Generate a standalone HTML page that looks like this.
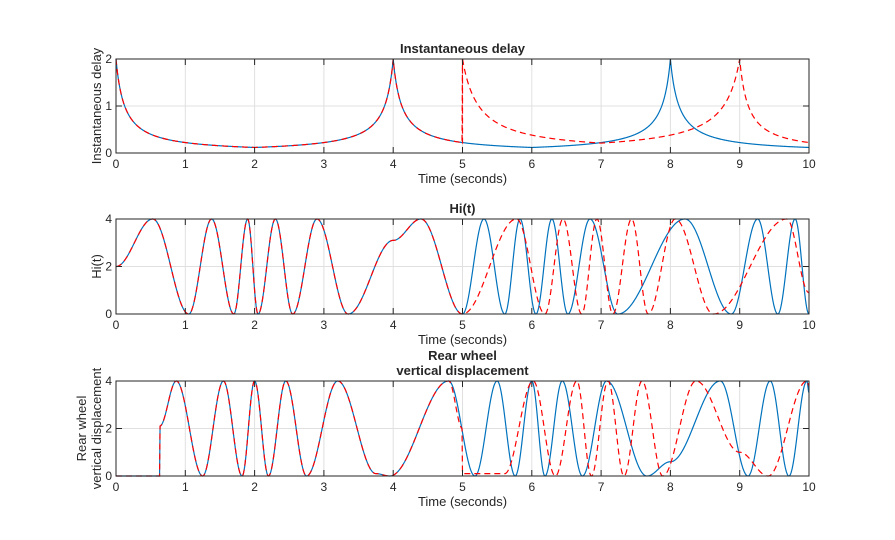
<!DOCTYPE html>
<html><head><meta charset="utf-8"><style>
body{margin:0;background:#fff}
svg{display:block;font-family:"Liberation Sans",Arial,sans-serif}
</style></head><body>
<svg id="s" width="895" height="540" xmlns="http://www.w3.org/2000/svg"></svg>
<script>
const S=document.getElementById('s');
const X0=116,X1=809;
const xs=t=>X0+(X1-X0)*t/10;
let h='<rect width="895" height="540" fill="#fff"/>';
function axes(top,bot,ymax,yt,title,ylab){
  const ys=v=>bot-(bot-top)*v/ymax;
  for(let t=0;t<=10;t++){h+=`<line x1="${xs(t)}" y1="${top}" x2="${xs(t)}" y2="${bot}" stroke="#e0e0e0" stroke-width="1"/>`;}
  yt.forEach(v=>{h+=`<line x1="${X0}" y1="${ys(v)}" x2="${X1}" y2="${ys(v)}" stroke="#e0e0e0"/>`;});
  return ys;
}
function frame(top,bot,ymax,yt,title,ylab){
  const ys=v=>bot-(bot-top)*v/ymax;
  h+=`<rect x="${X0}" y="${top}" width="${X1-X0}" height="${bot-top}" fill="none" stroke="#262626" stroke-width="1"/>`;
  for(let t=0;t<=10;t++){const x=xs(t);h+=`<line x1="${x}" y1="${bot}" x2="${x}" y2="${bot-6}" stroke="#262626"/><line x1="${x}" y1="${top}" x2="${x}" y2="${top+6}" stroke="#262626"/><text x="${x}" y="${bot+15}" font-size="12" text-anchor="middle" fill="#262626">${t}</text>`;}
  yt.forEach(v=>{const y=ys(v);h+=`<line x1="${X0}" y1="${y}" x2="${X0+6}" y2="${y}" stroke="#262626"/><line x1="${X1}" y1="${y}" x2="${X1-6}" y2="${y}" stroke="#262626"/><text x="${X0-4}" y="${y+4}" font-size="12" text-anchor="end" fill="#262626">${v}</text>`;});
  h+=`<text x="${(X0+X1)/2}" y="${bot+30}" font-size="13" text-anchor="middle" fill="#262626">Time (seconds)</text>`;
  title.forEach((s,i)=>{h+=`<text x="${(X0+X1)/2}" y="${top-6-15*(title.length-1-i)}" font-size="13" font-weight="bold" text-anchor="middle" fill="#262626">${s}</text>`;});
  const cy=(top+bot)/2;
  ylab.forEach((s,i)=>{const x=101-15*(ylab.length-1-i);h+=`<text transform="translate(${x},${cy}) rotate(-90)" font-size="13" text-anchor="middle" fill="#262626">${s}</text>`;});
}
function path(f,ys,col,dash){
  let d='';const N=1400;
  for(let i=0;i<=N;i++){const t=10*i/N;const v=f(t);if(v===null){continue;}d+=(d?'L':'M')+xs(t).toFixed(2)+','+ys(v).toFixed(2);}
  h+=`<path d="${d}" fill="none" stroke="${col}" stroke-width="1.2" ${dash?'stroke-dasharray="6,4"':''}/>`;
}
function interp(pts){
  return t=>{
    if(t<=pts[0][0])return pts[0][1];
    for(let i=0;i<pts.length-1;i++){const a=pts[i],b=pts[i+1];
      if(t<=b[0]){if(b[0]===a[0])return b[1];const u=(t-a[0])/(b[0]-a[0]);const w=(1-Math.cos(Math.PI*u))/2;return a[1]+(b[1]-a[1])*w;}}
    return pts[pts.length-1][1];
  };
}
// Plot 1
const dB=t=>{const p=[0,4,8];let s=Math.min(...p.map(q=>Math.abs(t-q)));return 0.25/(s+0.125);};
const dR=t=>{if(t<5)return dB(t);if(t<=9){const s=Math.min(t-5,9-t);return 0.47/(s+0.235);}return 0.25/((t-9)+0.125);};
let ys1=axes(59,153,2,[0,1,2]);
path(dB,ys1,'#0072BD',false);
path(t=>t<4.999?null:dR(t),ys1,'#FF0000',true);
// redraw early red segment with vertical jump
path(t=>t>5?null:dR(t),ys1,'#FF0000',true);
h+=`<line x1="${xs(5)}" y1="${ys1(0.2)}" x2="${xs(5)}" y2="${ys1(2)}" stroke="#FF0000" stroke-width="1.2" stroke-dasharray="6,4"/>`;
frame(59,153,2,[0,1,2],['Instantaneous delay'],['Instantaneous delay']);
// Plot 2
const pre2=[[0,2],[0.53,4],[1.05,0],[1.38,4],[1.7,0],[1.9,4],[2.05,0],[2.3,4],[2.55,0],[2.9,4],[3.35,0],[4.0,3.1],[4.4,4],[5.0,0]];
const b2=interp(pre2.concat([[5.31,4],[5.61,0],[5.83,4],[6.06,0],[6.29,4],[6.52,0],[6.84,4],[7.24,0],[8.21,4],[8.88,0],[9.26,4],[9.55,0],[9.8,4],[10,0]]));
const r2=interp(pre2.concat([[5.78,4],[6.19,0],[6.45,4],[6.72,0],[6.94,4],[7.17,0],[7.44,4],[7.68,0],[8.07,4],[8.62,0],[9.68,4],[10,0.9]]));
let ys2=axes(219,314,4,[0,2,4]);
path(b2,ys2,'#0072BD',false);
path(r2,ys2,'#FF0000',true);
frame(219,314,4,[0,2,4],['Hi(t)'],['Hi(t)']);
// Plot 3
const pre3=[[0,0],[0.63,0],[0.631,2.1],[0.87,4],[1.25,0],[1.55,4],[1.82,0],[2.0,4],[2.2,0],[2.45,4],[2.75,0],[3.2,4],[3.75,0.1],[3.95,0],[4.8,4]];
const b3=interp(pre3.concat([[5.18,0],[5.5,4],[5.76,0],[6.0,4],[6.19,0],[6.44,4],[6.73,0],[7.08,4],[7.66,0],[8.0,0.6],[8.72,4],[9.12,0],[9.44,4],[9.71,0],[9.97,4],[10,3.5]]));
const r3=interp(pre3.concat([[4.999,2.0],[5.0,0.1],[5.61,0.1],[6.02,4],[6.34,0],[6.65,4],[6.86,0],[7.10,4],[7.33,0],[7.59,4],[7.89,0],[8.37,4],[9.0,1.0],[9.41,0],[9.97,4],[10,3.8]]));
let ys3=axes(381,476,4,[0,2,4]);
path(b3,ys3,'#0072BD',false);
path(r3,ys3,'#FF0000',true);
frame(381,476,4,[0,2,4],['Rear wheel','vertical displacement'],['Rear wheel','vertical displacement']);
S.innerHTML=h;
</script>
</body></html>
